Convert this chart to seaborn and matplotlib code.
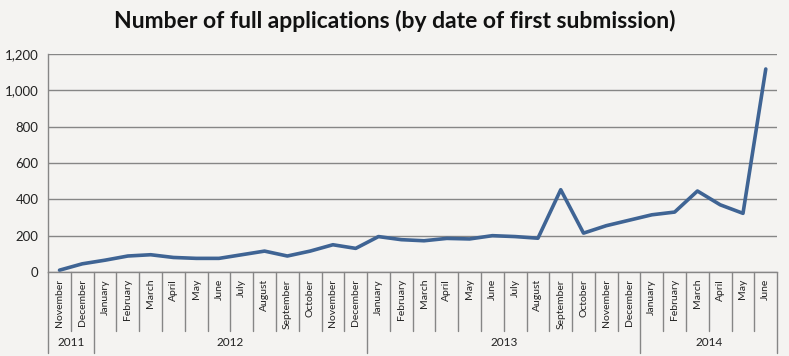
import numpy as np
import pandas as pd
import matplotlib
matplotlib.use("Agg")
import matplotlib.pyplot as plt
import matplotlib.transforms as mtransforms
import seaborn as sns

# Data -------------------------------------------------------------------
months = ["November", "December",
          "January", "February", "March", "April", "May", "June",
          "July", "August", "September", "October", "November", "December",
          "January", "February", "March", "April", "May", "June",
          "July", "August", "September", "October", "November", "December",
          "January", "February", "March", "April", "May", "June"]
years = ["2011", "2012", "2013", "2014"]
months_per_year = [2, 12, 12, 6]
applications = [10, 45, 65, 88, 95, 80, 75, 75, 95, 115, 88, 115, 150, 130,
                195, 178, 172, 185, 182, 200, 195, 186, 453, 214, 255, 285,
                315, 330, 446, 370, 323, 1118]
# ------------------------------------------------------------------------

bg = "#f4f3f1"
grid_c = "#868686"
line_c = "#3f6494"

sns.set_style("white")
plt.rcParams["font.family"] = ["Lato", "DejaVu Sans"]

df = pd.DataFrame({"idx": np.arange(len(months)), "n": applications})

fig = plt.figure(figsize=(7.89, 3.56), dpi=100, facecolor=bg)
ax = fig.add_axes([0.061, 0.236, 0.924, 0.612])
ax.set_facecolor(bg)

sns.lineplot(data=df, x="idx", y="n", ax=ax, color=line_c, linewidth=2.6)

ax.set_xlim(-0.5, len(months) - 0.5)
ax.set_ylim(0, 1200)
ax.set_yticks(range(0, 1201, 200))
ax.set_yticklabels([f"{v:,}" for v in range(0, 1201, 200)], fontsize=9.5)
ax.yaxis.grid(True, color=grid_c, linewidth=1)
ax.set_axisbelow(True)
ax.tick_params(axis="y", length=4, color=grid_c, pad=3, labelcolor="#222222")

for s in ["top", "right"]:
    ax.spines[s].set_visible(False)
for s in ["left", "bottom"]:
    ax.spines[s].set_color(grid_c)
    ax.spines[s].set_linewidth(1)

# month labels as ticks
ax.set_xticks(range(len(months)))
ax.set_xticklabels(months, rotation=90, fontsize=7.5, color="#222222")
ax.tick_params(axis="x", length=0, pad=5)
ax.set_xlabel("")
ax.set_ylabel("")

# separators for category axis
trans = mtransforms.blended_transform_factory(ax.transData, ax.transAxes)
month_bottom = -59 / 218.0
year_bottom = -81 / 218.0
year_starts = np.cumsum([0] + months_per_year)
for b in np.arange(len(months) + 1) - 0.5:
    is_year = (b + 0.5) in year_starts
    ax.plot([b, b], [0, year_bottom if is_year else month_bottom],
            transform=trans, color=grid_c, linewidth=1, clip_on=False)

for y, start, n in zip(years, year_starts[:-1], months_per_year):
    ax.text(start + (n - 1) / 2.0, -71 / 218.0, y, transform=trans,
            ha="center", va="center", fontsize=8.5, color="#222222")

fig.text(0.5, 0.94, "Number of full applications (by date of first submission)",
         ha="center", va="center", fontsize=16.5, fontweight="bold", color="#111111")

fig.savefig("out.png", dpi=100, facecolor=bg)
